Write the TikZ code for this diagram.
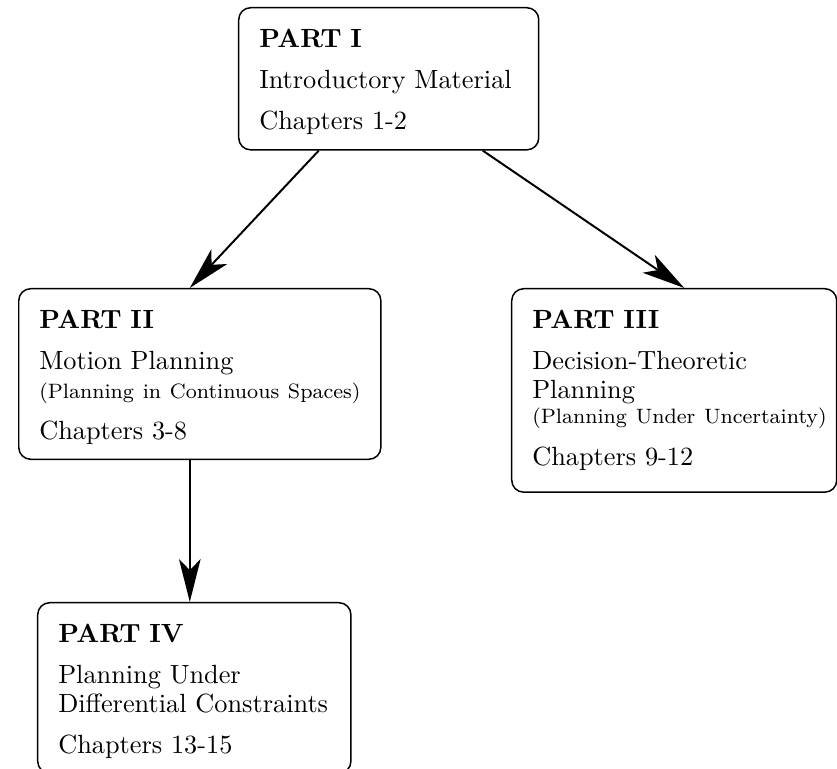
\documentclass[tikz,border=0pt]{standalone}
\usetikzlibrary{arrows.meta,calc}

\newcommand{\partnote}[1]{\mbox{\fontsize{7.9}{10}\selectfont #1}}

\tikzset{
  partbox/.style={draw, line width=0.57pt, rounded corners=4.5pt, anchor=north west,
    align=left, inner xsep=7.8pt, inner ysep=3pt,
    font=\fontsize{10}{10.8}\selectfont,
    execute at begin node={\rule{0pt}{12.2pt}},
    execute at end node={\rule[-4.6pt]{0pt}{4.6pt}}},
  partarrow/.style={line width=0.75pt, -{Stealth[length=16.3pt,width=8.2pt,inset=4.2pt]}}
}

\begin{document}
\begin{tikzpicture}[x=0.38pt,y=0.38pt]
\useasboundingbox (0,0) rectangle (837,769);

\node[partbox, text width=98.4pt] (part1) at (238,762)
  {\textbf{PART I}\\[4.8pt] Introductory Material\\[4.8pt] Chapters 1-2};
\node[partbox, text width=122pt] (part2) at (18,481)
  {\textbf{PART II}\\[4.8pt] Motion Planning\\ \partnote{(Planning in Continuous Spaces)}\\[4.8pt] Chapters 3-8};
\node[partbox, text width=107.9pt, execute at end node={\rule[-7.3pt]{0pt}{7.3pt}}] (part3) at (511,481)
  {\textbf{PART III}\\[4.8pt] Decision-Theoretic\\ Planning\\[-1pt] \partnote{(Planning Under Uncertainty)}\\[4.8pt] Chapters 9-12};
\node[partbox, text width=103.4pt] (part4) at (37,167)
  {\textbf{PART IV}\\[4.8pt] Planning Under\\ \mbox{Differential Constraints}\\[4.8pt] Chapters 13-15};

% arrows between the parts
\coordinate (a1) at ($(part1.south)+(-70,0)$);
\coordinate (a2) at ($(part1.south)+(94,0)$);
\coordinate (a3) at ($(part2.south)+(-10,0)$);
\draw[partarrow] (a1) -- ($(part2.north)+(-10,0)$);
\draw[partarrow] (a2) -- ($(part3.north)+(10,0)$);
\draw[partarrow] (a3) -- (a3 |- part4.north);

\end{tikzpicture}
\end{document}
